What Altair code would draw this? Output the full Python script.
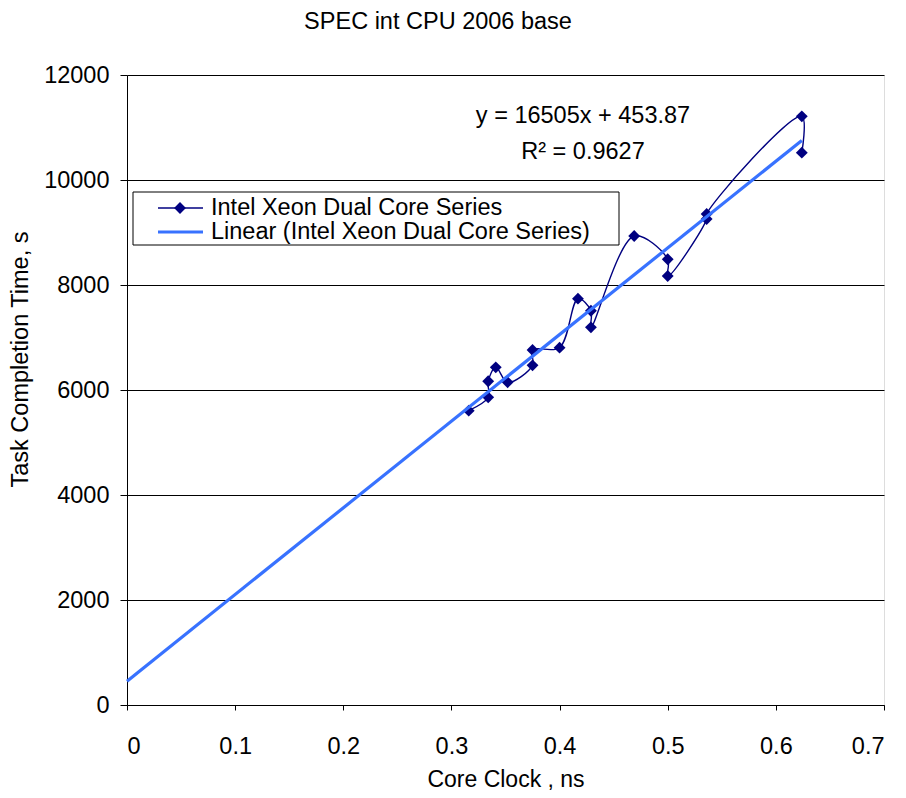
import altair as alt
import pandas as pd

# ---- data ----
core_clock = [0.316, 0.334, 0.334, 0.341, 0.352, 0.375, 0.375, 0.400, 0.417,
              0.429, 0.429, 0.469, 0.500, 0.500, 0.536, 0.536, 0.624, 0.624]
task_time = [5606, 5861, 6166, 6432, 6147, 6470, 6762, 6806, 7739,
             7510, 7194, 8933, 8490, 8171, 9257, 9352, 11213, 10520]
trend_slope = 16505
trend_intercept = 453.87
x_ticks = [0, 0.1, 0.2, 0.3, 0.4, 0.5, 0.6, 0.7]
y_ticks = [0, 2000, 4000, 6000, 8000, 10000, 12000]

FONT = "Liberation Sans"
FS = 23.5
NAVY = "#000080"
BLUE = "#3872FF"

df = pd.DataFrame({"x": core_clock, "y": task_time, "i": list(range(len(core_clock)))})
trend_x = [0, max(core_clock)]
df_trend = pd.DataFrame({"x": trend_x, "y": [trend_slope * v + trend_intercept for v in trend_x]})
one = pd.DataFrame({"k": [0]})

xs = alt.Scale(domain=[0, 0.7], nice=False, zero=False)
ys = alt.Scale(domain=[0, 12000], nice=False)

x_axis = alt.Axis(values=x_ticks, title="Core Clock , ns", grid=False, format="~g",
                  tickSize=5, labelPadding=24, labelFont=FONT, labelFontSize=FS,
                  titleFont=FONT, titleFontSize=23, titleFontWeight="normal",
                  titleY=74, titleBaseline="middle", domainColor="black",
                  tickColor="black", labelColor="black", titleColor="black")
y_axis = alt.Axis(values=y_ticks, title="Task Completion Time, s", grid=True, format="d",
                  gridColor="black", gridWidth=1, tickSize=7, labelPadding=11,
                  labelFont=FONT, labelFontSize=FS, labelBaseline="middle",
                  titleFont=FONT, titleFontSize=FS, titleFontWeight="normal",
                  titleX=-107, titleY=284, titleAngle=-90, titleBaseline="middle",
                  titleAlign="center", domainColor="black", tickColor="black",
                  labelColor="black", titleColor="black")

base = alt.Chart(df)
series_line = base.mark_line(color=NAVY, strokeWidth=1.4, interpolate="catmull-rom").encode(
    x=alt.X("x:Q", scale=xs, axis=x_axis),
    y=alt.Y("y:Q", scale=ys, axis=y_axis),
    order=alt.Order("i:Q"),
)
series_pts = base.mark_point(shape="diamond", filled=True, color=NAVY, size=140, opacity=1).encode(
    x=alt.X("x:Q", scale=xs), y=alt.Y("y:Q", scale=ys)
)
trend = alt.Chart(df_trend).mark_line(color=BLUE, strokeWidth=3.2).encode(
    x=alt.X("x:Q", scale=xs), y=alt.Y("y:Q", scale=ys)
)

def txt(text, x, y, align="center", size=FS):
    return alt.Chart(one).mark_text(text=text, font=FONT, fontSize=size, color="black",
                                    align=align, baseline="middle").encode(
        x=alt.value(x), y=alt.value(y))

title = txt("SPEC int CPU 2006 base", 311, -53)
eq1 = txt("y = 16505x + 453.87", 456, 41)
eq2 = txt("R² = 0.9627", 456, 77)

legend_box = alt.Chart(one).mark_rect(fill="white", stroke="black", strokeWidth=1).encode(
    x=alt.value(6), x2=alt.value(492), y=alt.value(117), y2=alt.value(170))
leg1_line = alt.Chart(one).mark_rule(color=NAVY, strokeWidth=1.4).encode(
    x=alt.value(31), x2=alt.value(76), y=alt.value(133))
leg1_pt = alt.Chart(one).mark_point(shape="diamond", filled=True, color=NAVY, size=140, opacity=1).encode(
    x=alt.value(53), y=alt.value(133))
leg2_line = alt.Chart(one).mark_rule(color=BLUE, strokeWidth=3.2).encode(
    x=alt.value(31), x2=alt.value(76), y=alt.value(157))
leg1_txt = txt("Intel Xeon Dual Core Series", 84, 133, align="left")
leg2_txt = txt("Linear (Intel Xeon Dual Core Series)", 84, 157, align="left")

chart = alt.layer(
    series_line, series_pts, trend, legend_box, leg1_line, leg1_pt, leg2_line,
    leg1_txt, leg2_txt, eq1, eq2, title
).properties(
    width=757, height=630,
    autosize=alt.AutoSizeParams(type="none"),
    padding={"left": 119, "top": 67, "right": 14, "bottom": 88},
).configure_view(stroke="black", strokeWidth=1).configure(background="white")

chart.save("out.html", embed_options={"renderer": "svg", "actions": False})
